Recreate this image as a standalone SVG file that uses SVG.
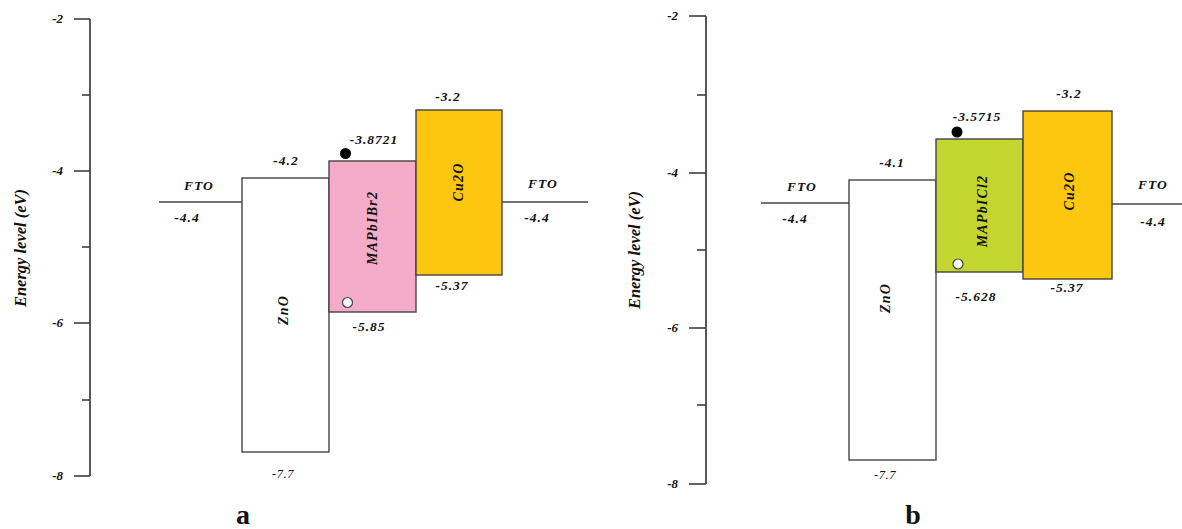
<svg xmlns="http://www.w3.org/2000/svg" width="1182" height="529" viewBox="0 0 1182 529">
<style>
.ax{stroke:#333;stroke-width:1.6;fill:none}
.ln{stroke:#444;stroke-width:1.4;fill:none}
.box{stroke:#444;stroke-width:1.4}
text{font-family:'Liberation Serif','Times New Roman',Times,serif;fill:#111}
.t{font-style:italic;font-weight:bold;font-size:13.5px;letter-spacing:1px;text-anchor:middle}
.tk{font-style:italic;font-weight:bold;font-size:13px;text-anchor:end}
.lb{font-style:italic;font-weight:bold;font-size:14px;letter-spacing:1.2px;text-anchor:middle}
.yl{font-style:italic;font-weight:bold;font-size:16.5px;text-anchor:middle}
.pl{font-weight:bold;font-size:28px;text-anchor:middle}
.sm{font-style:italic;font-size:12.5px;letter-spacing:0.5px;text-anchor:middle}
</style>
<rect width="1182" height="529" fill="#fff"/>

<!-- Panel a -->
<g id="axis-a">
<path class="ax" d="M90,19 V476 M74,19 H90 M82,95 H90 M74,171 H90 M82,247 H90 M74,323 H90 M82,400 H90 M74,476 H90"/>
<text class="tk" x="63" y="23">-2</text>
<text class="tk" x="63" y="175">-4</text>
<text class="tk" x="63" y="327">-6</text>
<text class="tk" x="63" y="480">-8</text>
<text class="yl" transform="translate(26,248) rotate(-90)">Energy level (eV)</text>
</g>
<g id="connectors-a">
<line class="ln" x1="159" y1="202" x2="242" y2="202"/>
<line class="ln" x1="502" y1="202" x2="588" y2="202"/>
</g>
<g id="fto-left-a">
<text class="t" x="199" y="190">FTO</text>
<text class="t" x="187" y="222">-4.4</text>
</g>
<g id="zno-a">
<rect class="box" x="242" y="178" width="87" height="274" fill="#fff"/>
<text class="t" x="286" y="165">-4.2</text>
<text class="sm" x="283" y="478">-7.7</text>
<text class="lb" transform="translate(288,310) rotate(-90)">ZnO</text>
</g>
<g id="mapbibr2-a">
<rect class="box" x="329" y="161" width="87" height="151" fill="#F4ACC8"/>
<circle cx="345.5" cy="153.5" r="5.5" fill="#000"/>
<circle cx="347.5" cy="302.5" r="5" fill="#fff" stroke="#444" stroke-width="1.2"/>
<text class="t" x="374" y="144">-3.8721</text>
<text class="t" x="369" y="331">-5.85</text>
<text class="lb" transform="translate(377,228) rotate(-90)">MAPbIBr2</text>
</g>
<g id="cu2o-a">
<rect class="box" x="416" y="110" width="86" height="165" fill="#FEC70F"/>
<text class="t" x="448" y="101">-3.2</text>
<text class="t" x="452" y="290">-5.37</text>
<text class="lb" transform="translate(463,182) rotate(-90)">Cu2O</text>
</g>
<g id="fto-right-a">
<text class="t" x="543" y="188">FTO</text>
<text class="t" x="537" y="222">-4.4</text>
</g>
<text class="pl" x="243" y="524">a</text>

<!-- Panel b -->
<g id="axis-b">
<path class="ax" d="M706,16 V484 M689,16 H706 M697,95 H706 M689,173 H706 M697,250 H706 M689,328 H706 M697,405 H706 M689,484 H706"/>
<text class="tk" x="678" y="20">-2</text>
<text class="tk" x="678" y="177">-4</text>
<text class="tk" x="678" y="332">-6</text>
<text class="tk" x="678" y="488">-8</text>
<text class="yl" transform="translate(640,250) rotate(-90)">Energy level (eV)</text>
</g>
<g id="connectors-b">
<line class="ln" x1="761" y1="203" x2="849" y2="203"/>
<line class="ln" x1="1112" y1="204" x2="1182" y2="204"/>
</g>
<g id="fto-left-b">
<text class="t" x="802" y="191">FTO</text>
<text class="t" x="795" y="223">-4.4</text>
</g>
<g id="zno-b">
<rect class="box" x="849" y="180" width="87" height="280" fill="#fff"/>
<text class="t" x="892" y="167">-4.1</text>
<text class="sm" x="885" y="479">-7.7</text>
<text class="lb" transform="translate(890,298) rotate(-90)">ZnO</text>
</g>
<g id="mapbicl2-b">
<rect class="box" x="936" y="139" width="87" height="133" fill="#C2D62F"/>
<circle cx="957" cy="132" r="5.5" fill="#000"/>
<circle cx="958" cy="264" r="5" fill="#fff" stroke="#444" stroke-width="1.2"/>
<text class="t" x="977" y="121">-3.5715</text>
<text class="t" x="976" y="301">-5.628</text>
<text class="lb" transform="translate(987,211) rotate(-90)">MAPbICl2</text>
</g>
<g id="cu2o-b">
<rect class="box" x="1023" y="111" width="89" height="168" fill="#FEC70F"/>
<text class="t" x="1069" y="98">-3.2</text>
<text class="t" x="1067" y="292">-5.37</text>
<text class="lb" transform="translate(1074,191) rotate(-90)">Cu2O</text>
</g>
<g id="fto-right-b">
<text class="t" x="1153" y="189">FTO</text>
<text class="t" x="1153" y="226">-4.4</text>
</g>
<text class="pl" x="913" y="524">b</text>
</svg>
